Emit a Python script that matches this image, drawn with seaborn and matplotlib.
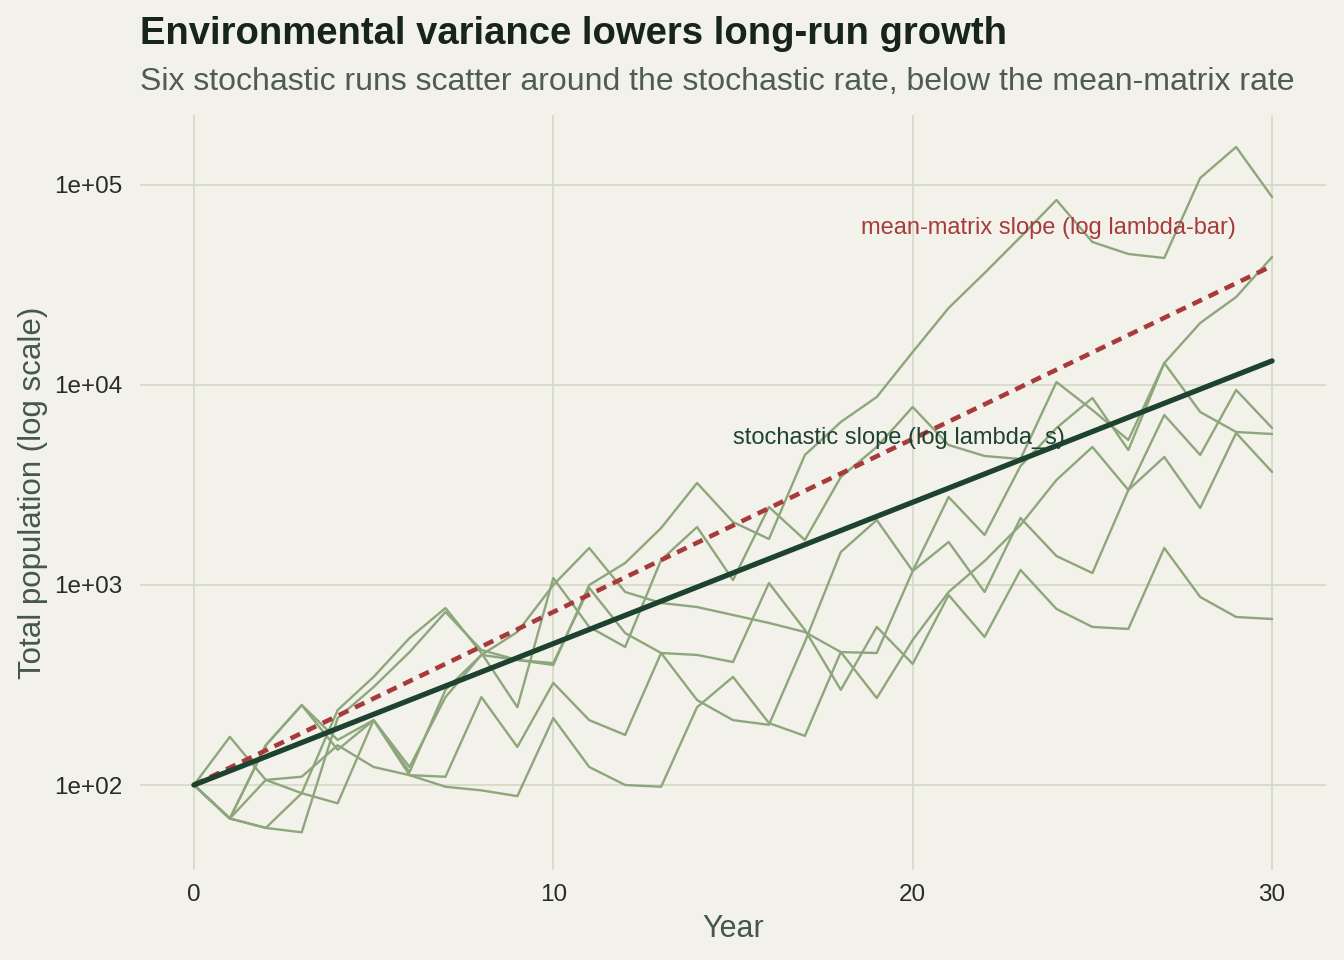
import pandas as pd
import seaborn as sns
import matplotlib.pyplot as plt

# six stochastic runs, total population per year
years = list(range(31))
run_1 = [100, 68, 158, 251, 150, 211, 116, 299, 447, 422, 398, 1000, 1288, 1928, 3236, 2065,
         1698, 4467, 6531, 8710, 14620, 24270, 36310, 54950, 84140, 51880, 45190, 43150,
         108400, 154900, 87100]
run_2 = [100, 174, 106, 91, 237, 347, 543, 767, 457, 245, 1084, 617, 490, 1334, 1950, 1059,
         2455, 1679, 3467, 4898, 7762, 5012, 4416, 4266, 10350, 7499, 5309, 12880, 20420,
         27540, 43650]
run_3 = [100, 68, 158, 251, 168, 211, 123, 275, 447, 582, 1000, 1531, 923, 813, 776, 708,
         646, 582, 462, 457, 1175, 2754, 1778, 3936, 6095, 8610, 4732, 12880, 7328, 5821, 5689]
run_4 = [100, 68, 106, 110, 158, 123, 112, 110, 275, 155, 324, 211, 178, 457, 266, 211,
         200, 519, 1462, 2113, 1175, 1641, 923, 2163, 1396, 1148, 2985, 4365, 2427, 5754, 3673]
run_5 = [100, 68, 61, 58, 216, 309, 462, 733, 473, 422, 407, 966, 575, 457, 447, 412,
         1023, 596, 299, 617, 403, 891, 550, 1189, 759, 617, 603, 1531, 871, 692, 676]
run_6 = [100, 68, 61, 91, 81, 211, 112, 98, 94, 88, 216, 123, 100, 98, 245, 347,
         204, 176, 462, 272, 531, 923, 1318, 1995, 3350, 4898, 2985, 7079, 4467, 9441, 6095]

# growth-rate reference lines (start and end of each)
slope_years = [0, 30]
stoch_slope_pop = [100, 13200]
mean_slope_pop = [100, 39400]

y_ticks = [1e2, 1e3, 1e4, 1e5]
y_tick_labels = ['1e+02', '1e+03', '1e+04', '1e+05']
x_ticks = [0, 10, 20, 30]

runs = [run_1, run_2, run_3, run_4, run_5, run_6]
runs_df = pd.DataFrame({
    'year': years * len(runs),
    'population': [v for r in runs for v in r],
    'run': [i for i, r in enumerate(runs) for _ in r],
})
slopes_df = pd.DataFrame({'year': slope_years, 'stoch': stoch_slope_pop, 'mean': mean_slope_pop})

bg = '#f2f2ea'
sns.set_theme(style='whitegrid', rc={
    'axes.facecolor': bg, 'figure.facecolor': bg, 'axes.edgecolor': bg,
    'grid.color': '#d5d7c5', 'grid.linewidth': 1.2,
})
plt.rcParams['font.family'] = ['Liberation Sans', 'DejaVu Sans']

fig = plt.figure(figsize=(13.44, 9.6), dpi=100)
ax = fig.add_axes([140 / 1344, 90 / 960, 1186 / 1344, 755 / 960])

sns.lineplot(data=runs_df, x='year', y='population', units='run', estimator=None,
             color='#8ea67c', linewidth=1.7, legend=False, ax=ax)
sns.lineplot(data=slopes_df, x='year', y='mean', color='#a83a3c', linewidth=3.3,
             linestyle=(0, (2.3, 1.6)), ax=ax)
sns.lineplot(data=slopes_df, x='year', y='stoch', color='#1d4330', linewidth=3.8, ax=ax)

ax.set_yscale('log')
ax.set_xlim(-1.5, 31.5)
ax.set_ylim(10 ** 1.575, 10 ** 5.35)
ax.set_yticks(y_ticks, labels=y_tick_labels)
ax.set_xticks(x_ticks, labels=[str(x) for x in x_ticks])
ax.minorticks_off()
ax.tick_params(axis='both', length=0, labelsize=17.5, colors='#2a2a2a', pad=10)
ax.tick_params(axis='y', pad=13)
for s in ax.spines.values():
    s.set_visible(False)

ax.set_xlabel('Year', fontsize=22, color='#44584a', labelpad=6)
ax.set_ylabel('Total population (log scale)', fontsize=22.5, color='#44584a', labelpad=4)

ax.text(29, 61000, 'mean-matrix slope (log lambda-bar)', color='#a83a3c', fontsize=17,
        ha='right', va='center')
ax.text(15, 5430, 'stochastic slope (log lambda_s)', color='#1d4330', fontsize=17,
        ha='left', va='center')

fig.text(140 / 1344, 1 - 34 / 960, 'Environmental variance lowers long-run growth',
         fontsize=27.5, fontweight='bold', color='#17241b', va='center')
fig.text(140 / 1344, 1 - 82 / 960,
         'Six stochastic runs scatter around the stochastic rate, below the mean-matrix rate',
         fontsize=23, color='#4f5c52', va='center')

plt.savefig('out.png', dpi=100, facecolor=bg)
